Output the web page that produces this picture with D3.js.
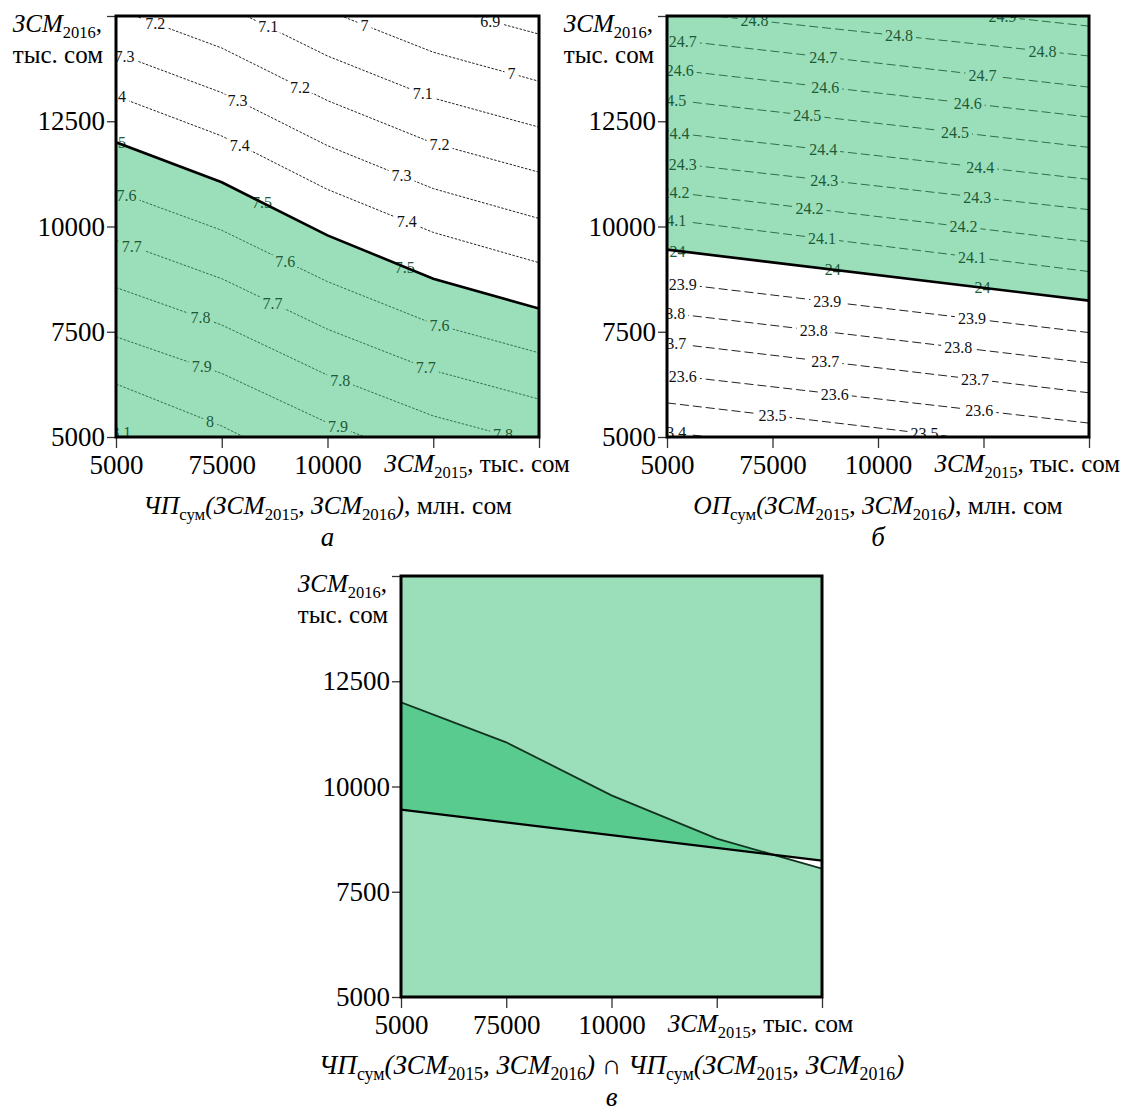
<!DOCTYPE html>
<meta charset="utf-8">
<style>
body { margin: 0; background: #fff; }
</style>
<body>
<script src="https://d3js.org/d3.v7.min.js"></script>
<script>
var width = 1128,
    height = 1111;

var lightGreen = "#9adfba",
    darkGreen = "#59cb8e";
var fs = 25;

// grid columns of ЗСМ2015 (labels as printed in the source)
var xTickLabels = ["5000", "75000", "10000", "", ""];
var yTickValues = [5000, 7500, 10000, 12500, 15000];
var yTickLabels = ["5000", "7500", "10000", "12500", ""];

// а: ЧП_сум contour levels, ЗСМ2016 at each of the 5 grid columns
var chpLevels = [6.9, 7.0, 7.1, 7.2, 7.3, 7.4, 7.5, 7.6, 7.7, 7.8, 7.9, 8.0, 8.1];
var chpLines = [
  [18300, 17400, 16200, 15250, 14570],
  [17260, 16350, 15130, 14140, 13450],
  [16210, 15290, 14050, 13050, 12360],
  [15170, 14240, 12990, 11980, 11290],
  [14120, 13180, 11920, 10900, 10190],
  [13100, 12150, 10880, 9860, 9140],
  [12000, 11050, 9790, 8760, 8050],
  [10830, 9910, 8690, 7690, 7000],
  [9670, 8760, 7560, 6580, 5900],
  [8550, 7660, 6470, 5500, 4830],
  [7380, 6510, 5340, 4390, 3740],
  [6260, 5260, 4020, 3020, 2310],
  [5170, 4120, 2830, 1780, 1000]
];
var chpLabelAt = [
  [3.54], [2.35, 3.74], [1.44, 2.9], [0.37, 1.74, 3.06], [0.08, 1.15, 2.7],
  [0.0, 1.17, 2.75], [0.0, 1.38, 2.73], [0.1, 1.6, 3.06], [0.15, 1.48, 2.93],
  [0.8, 2.12, 3.66], [0.81, 2.1], [0.89], [0.05]
];
var chpBound = 7.5;

// б: ОП_сум contour levels, ЗСМ2016 at left and right edge
var opLevels = [24.9, 24.8, 24.7, 24.6, 24.5, 24.4, 24.3, 24.2, 24.1, 24.0, 23.9, 23.8, 23.7, 23.6, 23.5, 23.4];
var opLines = [
  [15830, 14760], [15120, 14050], [14450, 13310], [13740, 12600],
  [13020, 11880], [12240, 11120], [11520, 10400], [10830, 9640],
  [10170, 8930], [9450, 8240], [8670, 7480], [7950, 6760],
  [7240, 6050], [6480, 5330], [5810, 4620], [5120, 3900]
];
var opLabelAt = [
  [3.18], [0.83, 2.2, 3.56], [0.15, 1.48, 2.99], [0.12, 1.5, 2.85],
  [0.05, 1.33, 2.73], [0.08, 1.48, 2.97], [0.15, 1.49, 2.94], [0.08, 1.35, 2.81],
  [0.05, 1.47, 2.89], [0.1, 1.57, 2.99], [0.15, 1.52, 2.89], [0.04, 1.39, 2.76],
  [0.05, 1.5, 2.92], [0.15, 1.59, 2.96], [1.0, 2.44], [0.05]
];
var opBound = 24.0;

var svg = d3.select("body").append("svg")
    .attr("width", width)
    .attr("height", height);
var defs = svg.append("defs");

function pts(vals) {
  var step = 4 / (vals.length - 1);
  return vals.map(function(v, i) { return [i * step, v]; });
}

function yAt(vals, xi) {
  var step = 4 / (vals.length - 1);
  var k = Math.max(0, Math.min(Math.floor(xi / step), vals.length - 2));
  var t = (xi - k * step) / step;
  return vals[k] + (vals[k + 1] - vals[k]) * t;
}

// text with italic / subscript pieces
function rich(sel, parts, size) {
  var shift = 0;
  parts.forEach(function(p) {
    var t = sel.append("tspan").text(p[0]);
    var want = p[1] === "s" ? size * 0.22 : 0;
    if (want !== shift) { t.attr("dy", want - shift); shift = want; }
    if (p[1] === "i") t.style("font-style", "italic");
    if (p[1] === "s") t.style("font-size", (size * 0.66) + "px");
  });
}

var yTitle = [["ЗСМ", "i"], ["2016", "s"], [",", "n"]];
var xTitle = [["ЗСМ", "i"], ["2015", "s"], [", тыс. сом", "n"]];

function frame(id, box, title, letter, titleSize) {
  var g = svg.append("g").attr("transform", "translate(" + box.left + "," + box.top + ")");
  var x = d3.scaleLinear().domain([0, 4]).range([0, box.w]);
  var y = d3.scaleLinear().domain([5000, 15000]).range([box.h, 0]);

  defs.append("clipPath").attr("id", "clip-" + id)
    .append("rect").attr("width", box.w).attr("height", box.h);

  var inner = g.append("g").attr("clip-path", "url(#clip-" + id + ")");

  var yAxis = g.append("g")
    .call(d3.axisLeft(y).tickValues(yTickValues)
      .tickFormat(function(d, i) { return yTickLabels[i]; })
      .tickSize(9).tickPadding(2));
  var xAxis = g.append("g").attr("transform", "translate(0," + box.h + ")")
    .call(d3.axisBottom(x).tickValues([0, 1, 2, 3, 4])
      .tickFormat(function(d, i) { return xTickLabels[i]; })
      .tickSize(11).tickPadding(4));
  [yAxis, xAxis].forEach(function(a) {
    a.select(".domain").remove();
    a.selectAll("line").attr("stroke", "#333").attr("stroke-width", 1.3);
    a.selectAll("text").style("font-size", "27px").attr("fill", "#000");
  });
  xAxis.selectAll("text").attr("dy", "0.8em");

  rich(g.append("text").attr("x", x(3) - 49).attr("y", box.h + 35).style("font-size", fs + "px"), xTitle, fs);
  rich(g.append("text").attr("x", -14).attr("y", 16).attr("text-anchor", "end").style("font-size", fs + "px"), yTitle, fs);
  g.append("text").attr("x", -13).attr("y", 47).attr("text-anchor", "end")
    .style("font-size", fs + "px").text("тыс. сом");

  rich(g.append("text").attr("x", box.w / 2).attr("y", box.h + 77)
    .attr("text-anchor", "middle").style("font-size", titleSize + "px"), title, titleSize);
  g.append("text").attr("x", box.w / 2).attr("y", box.h + 109)
    .attr("text-anchor", "middle").style("font-size", "27px")
    .style("font-style", "italic").text(letter);

  return { g: g, inner: inner, x: x, y: y, box: box };
}

function contours(p, id, levels, lines, labelAt, bound, dash) {
  var x = p.x, y = p.y;
  var line = d3.line().x(function(d) { return x(d[0]); }).y(function(d) { return y(d[1]); });
  // the shaded side holds the levels at and above the bound
  var inGreen = function(l) { return l > bound - 1e-9; };

  var mask = defs.append("mask").attr("id", "mask-" + id).attr("maskUnits", "userSpaceOnUse");
  mask.append("rect").attr("x", -20).attr("y", -20)
    .attr("width", p.box.w + 40).attr("height", p.box.h + 40).attr("fill", "#fff");

  var lg = p.inner.append("g").attr("mask", "url(#mask-" + id + ")");
  var tg = p.inner.append("g");

  levels.forEach(function(l, k) {
    if (l !== bound) {
      lg.append("path")
        .attr("d", line(pts(lines[k])))
        .attr("fill", "none")
        .attr("stroke", inGreen(l) ? "#2f6f49" : "#222")
        .attr("stroke-width", 1)
        .attr("stroke-dasharray", dash);
    }
    labelAt[k].forEach(function(xi) {
      var t = tg.append("text")
        .attr("x", x(xi))
        .attr("y", y(yAt(lines[k], xi)))
        .attr("dy", "0.35em")
        .attr("text-anchor", "middle")
        .attr("fill", inGreen(l) ? "#1d5a36" : "#111")
        .style("font-family", "'Liberation Serif'")
        .style("font-size", "16px")
        .text(String(l));
      var w = t.node().getComputedTextLength();
      mask.append("rect")
        .attr("x", x(xi) - w / 2 - 3).attr("y", y(yAt(lines[k], xi)) - 6)
        .attr("width", w + 6).attr("height", 12).attr("fill", "#000");
    });
  });
}

function box(p) {
  p.g.append("rect").attr("width", p.box.w).attr("height", p.box.h)
    .attr("fill", "none").attr("stroke", "#000").attr("stroke-width", 3);
}

var chpTitle = [["ЧП", "i"], ["сум", "s"], ["(", "i"], ["ЗСМ", "i"], ["2015", "s"], [", ", "n"],
                ["ЗСМ", "i"], ["2016", "s"], [")", "i"], [", млн. сом", "n"]];
var opTitle = [["ОП", "i"], ["сум", "s"], ["(", "i"], ["ЗСМ", "i"], ["2015", "s"], [", ", "n"],
               ["ЗСМ", "i"], ["2016", "s"], [")", "i"], [", млн. сом", "n"]];
var capTitle = [["ЧП", "i"], ["сум", "s"], ["(", "i"], ["ЗСМ", "i"], ["2015", "s"], [", ", "n"],
                ["ЗСМ", "i"], ["2016", "s"], [")", "i"], [" ∩ ", "n"],
                ["ЧП", "i"], ["сум", "s"], ["(", "i"], ["ЗСМ", "i"], ["2015", "s"], [", ", "n"],
                ["ЗСМ", "i"], ["2016", "s"], [")", "i"]];

var chpEdge = chpLines[chpLevels.indexOf(chpBound)];
var opEdge = opLines[opLevels.indexOf(opBound)];

var areaBelow = function(p) {
  return d3.area().x(function(d) { return p.x(d[0]); })
    .y0(p.box.h).y1(function(d) { return p.y(d[1]); });
};
var areaAbove = function(p) {
  return d3.area().x(function(d) { return p.x(d[0]); })
    .y0(0).y1(function(d) { return p.y(d[1]); });
};
var edge = function(p) {
  return d3.line().x(function(d) { return p.x(d[0]); }).y(function(d) { return p.y(d[1]); });
};

// ---- а ----
var pa = frame("a", { left: 116, top: 16, w: 423, h: 421 }, chpTitle, "а", 25.5);
pa.inner.append("path").attr("d", areaBelow(pa)(pts(chpEdge))).attr("fill", lightGreen);
contours(pa, "a", chpLevels, chpLines, chpLabelAt, chpBound, "2.5,1.5");
pa.inner.append("path").attr("d", edge(pa)(pts(chpEdge)))
  .attr("fill", "none").attr("stroke", "#000").attr("stroke-width", 2.6);
box(pa);

// ---- б ----
var pb = frame("b", { left: 667, top: 16, w: 422, h: 421 }, opTitle, "б", 25.5);
pb.inner.append("path").attr("d", areaAbove(pb)(pts(opEdge))).attr("fill", lightGreen);
contours(pb, "b", opLevels, opLines, opLabelAt, opBound, "9,4");
pb.inner.append("path").attr("d", edge(pb)(pts(opEdge)))
  .attr("fill", "none").attr("stroke", "#000").attr("stroke-width", 2.6);
box(pb);

// ---- в ----
var pc = frame("c", { left: 401, top: 576, w: 421, h: 421 }, capTitle, "в", 27);
defs.append("clipPath").attr("id", "below-chp")
  .append("path").attr("d", areaBelow(pc)(pts(chpEdge)));
defs.append("clipPath").attr("id", "below-op")
  .append("path").attr("d", areaBelow(pc)(pts(opEdge)));
pc.inner.append("rect").attr("width", pc.box.w).attr("height", pc.box.h).attr("fill", lightGreen);
pc.inner.append("g").attr("clip-path", "url(#below-chp)")
  .append("path").attr("d", areaAbove(pc)(pts(opEdge))).attr("fill", darkGreen);
pc.inner.append("g").attr("clip-path", "url(#below-op)")
  .append("path").attr("d", areaAbove(pc)(pts(chpEdge))).attr("fill", "#fff");
pc.inner.append("path").attr("d", edge(pc)(pts(chpEdge)))
  .attr("fill", "none").attr("stroke", "#12331f").attr("stroke-width", 1.8);
pc.inner.append("path").attr("d", edge(pc)(pts(opEdge)))
  .attr("fill", "none").attr("stroke", "#000").attr("stroke-width", 2.2);
box(pc);

// serif everywhere (axis groups set their own family)
svg.selectAll("text").style("font-family", "'Liberation Serif'");
</script>
</body>
